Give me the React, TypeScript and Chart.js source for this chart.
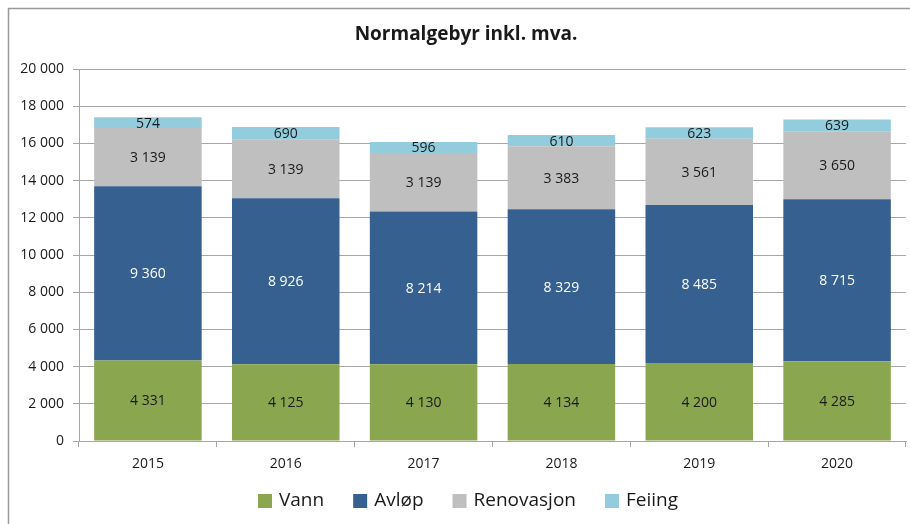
import React, { useEffect, useRef } from "react";
import { Chart, registerables } from "chart.js";

Chart.register(...registerables);

const years = ["2015", "2016", "2017", "2018", "2019", "2020"];
const vann = [4331, 4125, 4130, 4134, 4200, 4285];
const avlop = [9360, 8926, 8214, 8329, 8485, 8715];
const renovasjon = [3139, 3139, 3139, 3383, 3561, 3650];
const feiing = [574, 690, 596, 610, 623, 639];

const seriesNames = ["Vann", "Avløp", "Renovasjon", "Feiing"];
const seriesColors = ["#8aa64f", "#36608f", "#bfbfbf", "#93cddd"];
const labelColors = ["#1a1a1a", "#ffffff", "#1a1a1a", "#1a1a1a"];
const titleText = "Normalgebyr inkl. mva.";

const FONT = "'Open Sans', 'DejaVu Sans', sans-serif";
const GRID = "#a6a6a6";

const fmt = (v: number) => String(v).replace(/\B(?=(\d{3})+(?!\d))/g, " ");

const framePlugin = {
  id: "frame",
  beforeDraw(chart: any) {
    const ctx = chart.ctx;
    ctx.save();
    ctx.fillStyle = "#ffffff";
    ctx.fillRect(0, 0, chart.width, chart.height);
    ctx.strokeStyle = "#9a9a9a";
    ctx.lineWidth = 1.5;
    ctx.beginPath();
    ctx.moveTo(8.5, chart.height + 5);
    ctx.lineTo(8.5, 8.5);
    ctx.lineTo(chart.width + 5, 8.5);
    ctx.stroke();
    ctx.restore();
  },
};

const labelPlugin = {
  id: "segLabels",
  afterDatasetsDraw(chart: any) {
    const ctx = chart.ctx;
    ctx.save();
    ctx.font = `14px ${FONT}`;
    ctx.textAlign = "center";
    ctx.textBaseline = "middle";
    chart.data.datasets.forEach((ds: any, di: number) => {
      const meta = chart.getDatasetMeta(di);
      meta.data.forEach((el: any, i: number) => {
        const v = ds.data[i];
        const cy = (el.y + el.base) / 2;
        ctx.fillStyle = labelColors[di];
        ctx.fillText(fmt(v), el.x, cy + 1);
      });
    });
    ctx.restore();
  },
};

const titleLegendPlugin = {
  id: "titleLegend",
  afterDraw(chart: any) {
    const ctx = chart.ctx;
    ctx.save();
    ctx.fillStyle = "#1a1a1a";
    ctx.font = `bold 19px ${FONT}`;
    ctx.textAlign = "center";
    ctx.textBaseline = "middle";
    ctx.fillText(titleText, 466, 35);

    ctx.textAlign = "left";
    ctx.font = `19px ${FONT}`;
    const box = 14;
    const gap = 7;
    const spacing = 29;
    const widths = seriesNames.map((n) => box + gap + ctx.measureText(n).width);
    const total = widths.reduce((a, b) => a + b, 0) + spacing * (widths.length - 1);
    let x = 468 - total / 2;
    const cy = 501;
    seriesNames.forEach((n, i) => {
      ctx.fillStyle = seriesColors[i];
      ctx.fillRect(x, cy - box / 2, box, box);
      ctx.fillStyle = "#1a1a1a";
      ctx.fillText(n, x + box + gap, cy);
      x += widths[i] + spacing;
    });
    ctx.restore();
  },
};

export default function App() {
  const ref = useRef<HTMLCanvasElement>(null);
  useEffect(() => {
    if (!ref.current) return;
    const series = [vann, avlop, renovasjon, feiing];
    const chart = new Chart(ref.current, {
      type: "bar",
      data: {
        labels: years,
        datasets: series.map((d, i) => ({
          label: seriesNames[i],
          data: d,
          backgroundColor: seriesColors[i],
          borderWidth: 0,
          barPercentage: 0.78,
          categoryPercentage: 1,
        })),
      },
      options: {
        responsive: false,
        animation: false,
        devicePixelRatio: 1,
        layout: { padding: { left: 10, right: 4, top: 69, bottom: 43 } },
        plugins: {
          legend: { display: false },
          tooltip: { enabled: false },
          title: { display: false },
        },
        scales: {
          x: {
            stacked: true,
            grid: {
              offset: true,
              drawOnChartArea: false,
              drawTicks: true,
              tickLength: 6,
              color: GRID,
            },
            border: { color: GRID },
            ticks: { color: "#1a1a1a", font: { family: FONT, size: 14 }, padding: 9 },
            afterFit: (s: any) => {
              s.height = 40;
            },
          },
          y: {
            stacked: true,
            min: 0,
            max: 20000,
            grid: { color: GRID, tickLength: 6 },
            border: { color: GRID },
            ticks: {
              stepSize: 2000,
              color: "#1a1a1a",
              font: { family: FONT, size: 14 },
              padding: 9,
              callback: (v: any) => fmt(Number(v)),
            },
            afterFit: (s: any) => {
              s.width = 69;
            },
          },
        },
      },
      plugins: [framePlugin, labelPlugin, titleLegendPlugin],
    });
    return () => chart.destroy();
  }, []);
  return (
    <div style={{ position: "fixed", left: 0, top: 0, width: 910, height: 524, background: "#fff" }}>
      <canvas ref={ref} width={910} height={524} style={{ width: 910, height: 524, display: "block" }} />
    </div>
  );
}
